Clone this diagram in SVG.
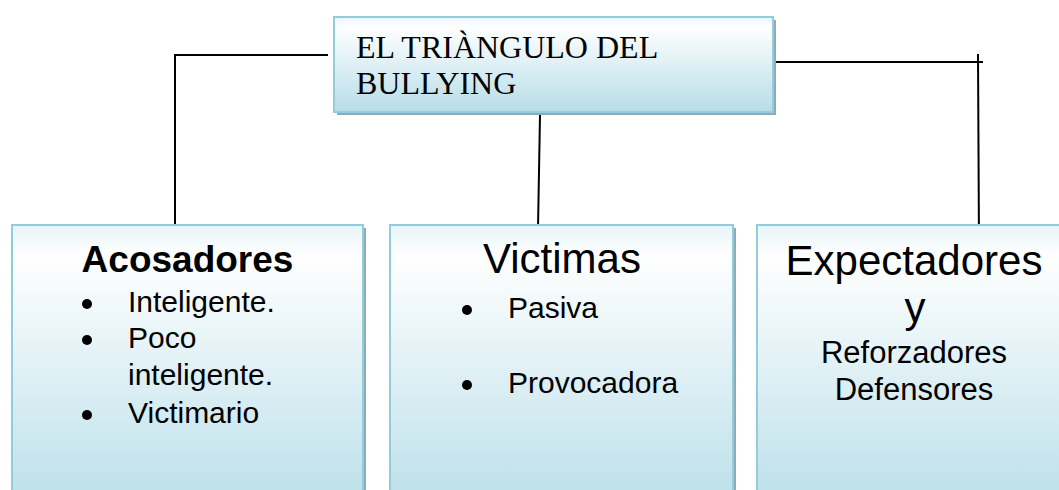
<svg xmlns="http://www.w3.org/2000/svg" width="1059" height="490" viewBox="0 0 1059 490">
<defs>
<linearGradient id="g" x1="0" y1="0" x2="0" y2="1">
<stop offset="0" stop-color="#e6f4f8"/>
<stop offset="0.1" stop-color="#ffffff"/>
<stop offset="1" stop-color="#b6dde8"/>
</linearGradient>
<style>
.box{fill:url(#g);stroke:#92cddc;stroke-width:2}
.sh{fill:#8eacb7}
.ln{stroke:#000;stroke-width:2;fill:none}
.t{font-family:"Liberation Serif","Times New Roman",serif;font-size:32px;fill:#000}
.s{font-family:"Liberation Sans",Arial,sans-serif;fill:#000}
.b{fill:#000}
</style>
</defs>
<rect width="1059" height="490" fill="#fff"/>
<g id="connectors">
<polyline class="ln" points="328,55 175,55 175,230"/>
<line class="ln" x1="540" y1="115" x2="538" y2="228"/>
<polyline class="ln" points="776,62 983,62"/>
<line class="ln" x1="978" y1="54" x2="979" y2="247"/>
</g>
<g id="node-top">
<rect class="sh" x="337" y="20" width="439" height="95"/>
<rect class="box" x="334" y="17" width="439" height="95"/>
<text class="t" x="356" y="58">EL TRIÀNGULO DEL</text>
<text class="t" x="356" y="94">BULLYING</text>
</g>
<g id="node-acosadores">
<rect class="sh" x="15" y="228" width="351" height="300"/>
<rect class="box" x="12" y="225" width="351" height="300"/>
<text class="s" x="187.5" y="272" font-size="37" font-weight="bold" text-anchor="middle">Acosadores</text>
<circle class="b" cx="87" cy="304" r="5"/>
<text class="s" x="128" y="312" font-size="30">Inteligente.</text>
<circle class="b" cx="87" cy="340" r="5"/>
<text class="s" x="128" y="348" font-size="30">Poco</text>
<text class="s" x="128" y="385" font-size="30">inteligente.</text>
<circle class="b" cx="87" cy="415" r="5"/>
<text class="s" x="128" y="423" font-size="30">Victimario</text>
</g>
<g id="node-victimas">
<rect class="sh" x="393" y="228" width="343" height="300"/>
<rect class="box" x="390" y="225" width="343" height="300"/>
<text class="s" x="562" y="273" font-size="42" text-anchor="middle">Victimas</text>
<circle class="b" cx="467" cy="310" r="5"/>
<text class="s" x="508" y="318" font-size="30">Pasiva</text>
<circle class="b" cx="467" cy="385" r="5"/>
<text class="s" x="508" y="393" font-size="30">Provocadora</text>
</g>
<g id="node-expectadores">
<rect class="sh" x="760" y="228" width="343" height="300"/>
<rect class="box" x="757" y="225" width="343" height="300"/>
<text class="s" x="914" y="275" font-size="42" text-anchor="middle">Expectadores</text>
<text class="s" x="915" y="322" font-size="42" text-anchor="middle">y</text>
<text class="s" x="914" y="363" font-size="31" text-anchor="middle">Reforzadores</text>
<text class="s" x="914" y="400" font-size="31" text-anchor="middle">Defensores</text>
</g>
</svg>
